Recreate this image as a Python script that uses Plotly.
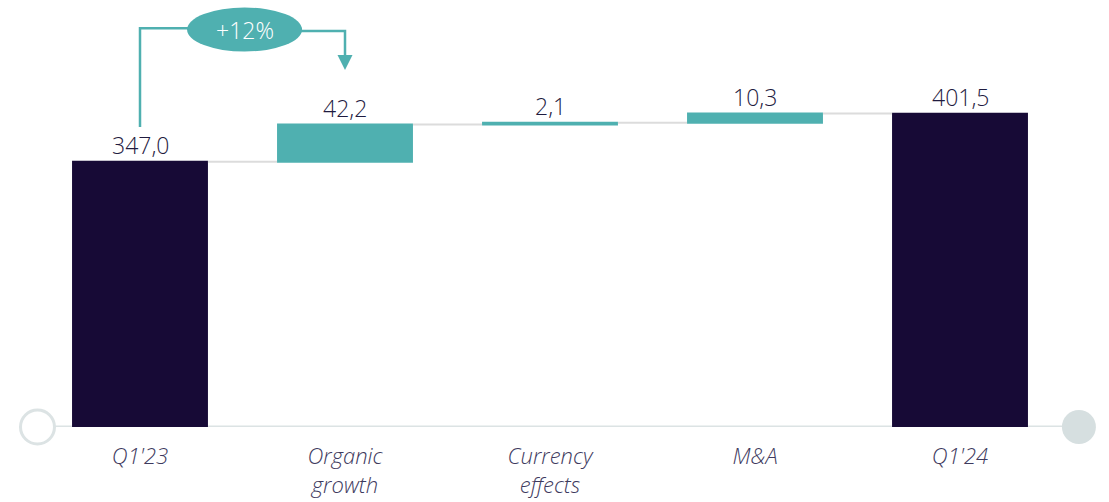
import plotly.graph_objects as go

categories = ["Q1'23", "Organic<br>growth", "Currency<br>effects", "M&A", "Q1'24"]
values = [347.0, 42.2, 2.1, 10.3, 401.5]
measures = ["absolute", "relative", "relative", "relative", "absolute"]
labels = [f"{v:.1f}".replace(".", ",") for v in values]
growth_label = "+12%"

TEAL = "#4fb0b0"
NAVY = "#170a36"
TEXT = "#1f1b3f"
TICK = "#3e3a5e"
AXIS = "#dce3e4"

xs = list(range(len(categories)))
ymin, ymax = 47.4, 529.9

# bar tops derived from the data
tops = []
run = 0.0
for v, m in zip(values, measures):
    run = v if m == "absolute" else run + v
    tops.append(run)

fig = go.Figure()
fig.add_trace(go.Waterfall(
    x=xs, y=values, measure=measures,
    width=0.663,
    increasing=dict(marker=dict(color=TEAL, line=dict(width=0))),
    decreasing=dict(marker=dict(color=TEAL, line=dict(width=0))),
    totals=dict(marker=dict(color=NAVY, line=dict(width=0))),
    connector=dict(mode="between", line=dict(color="#dcdcdc", width=2)),
    hoverinfo="skip",
))
for x, t, lab in zip(xs, tops, labels):
    fig.add_annotation(x=x, y=t, xref="x", yref="y", text=lab, showarrow=False,
                       yanchor="bottom", yshift=-1,
                       font=dict(family="Open Sans", size=23, color=TEXT, weight=300))

# baseline
fig.add_shape(type="line", xref="x", yref="y", x0=-0.5, x1=4.58, y0=ymin, y1=ymin,
              line=dict(color=AXIS, width=3), layer="below")
fig.add_trace(go.Scatter(x=[-0.5], y=[ymin], mode="markers", cliponaxis=False,
                         marker=dict(size=34, color="white", line=dict(color=AXIS, width=3)),
                         hoverinfo="skip", showlegend=False))
fig.add_trace(go.Scatter(x=[4.58], y=[ymin], mode="markers", cliponaxis=False,
                         marker=dict(size=34, color="#d6dfe0", line=dict(width=0)),
                         hoverinfo="skip", showlegend=False))

# growth bracket
fig.add_trace(go.Scatter(x=[0, 0, 0.5, None, 0.5, 1, 1], y=[386.5, 498, 498, None, 495, 495, 466],
                         mode="lines", line=dict(color=TEAL, width=2.5), cliponaxis=False,
                         hoverinfo="skip", showlegend=False))
fig.add_annotation(x=1, y=450.8, ax=1, ay=468, axref="x", ayref="y", xref="x", yref="y",
                   text="", showarrow=True, arrowhead=2, arrowsize=1.2, arrowwidth=2.5,
                   arrowcolor=TEAL, standoff=0)
fig.add_shape(type="circle", xref="x", yref="y", xsizemode="pixel", ysizemode="pixel",
              xanchor=0.51, yanchor=496.5, x0=-57.5, x1=57.5, y0=-22, y1=22,
              fillcolor=TEAL, line=dict(width=0), layer="above")
fig.add_annotation(x=0.51, y=496.5, xref="x", yref="y", text=growth_label, showarrow=False,
                   font=dict(family="Open Sans", size=23, color="white", weight=300))

fig.update_layout(
    width=1109, height=502,
    margin=dict(l=0, r=0, t=0, b=75),
    paper_bgcolor="white", plot_bgcolor="white",
    showlegend=False,
    xaxis=dict(range=[-0.6829, 4.7268], tickvals=xs, ticktext=categories,
               showgrid=False, zeroline=False, showline=False, ticks="",
               ticklabelstandoff=14,
               tickfont=dict(family="Open Sans", size=22, color=TICK, style="italic", weight=300)),
    yaxis=dict(range=[ymin, ymax], visible=False, showgrid=False, zeroline=False),
)

fig.write_html("out.html", config={"displayModeBar": False},
               post_script="document.body.style.margin='0';document.body.style.overflow='hidden';")
